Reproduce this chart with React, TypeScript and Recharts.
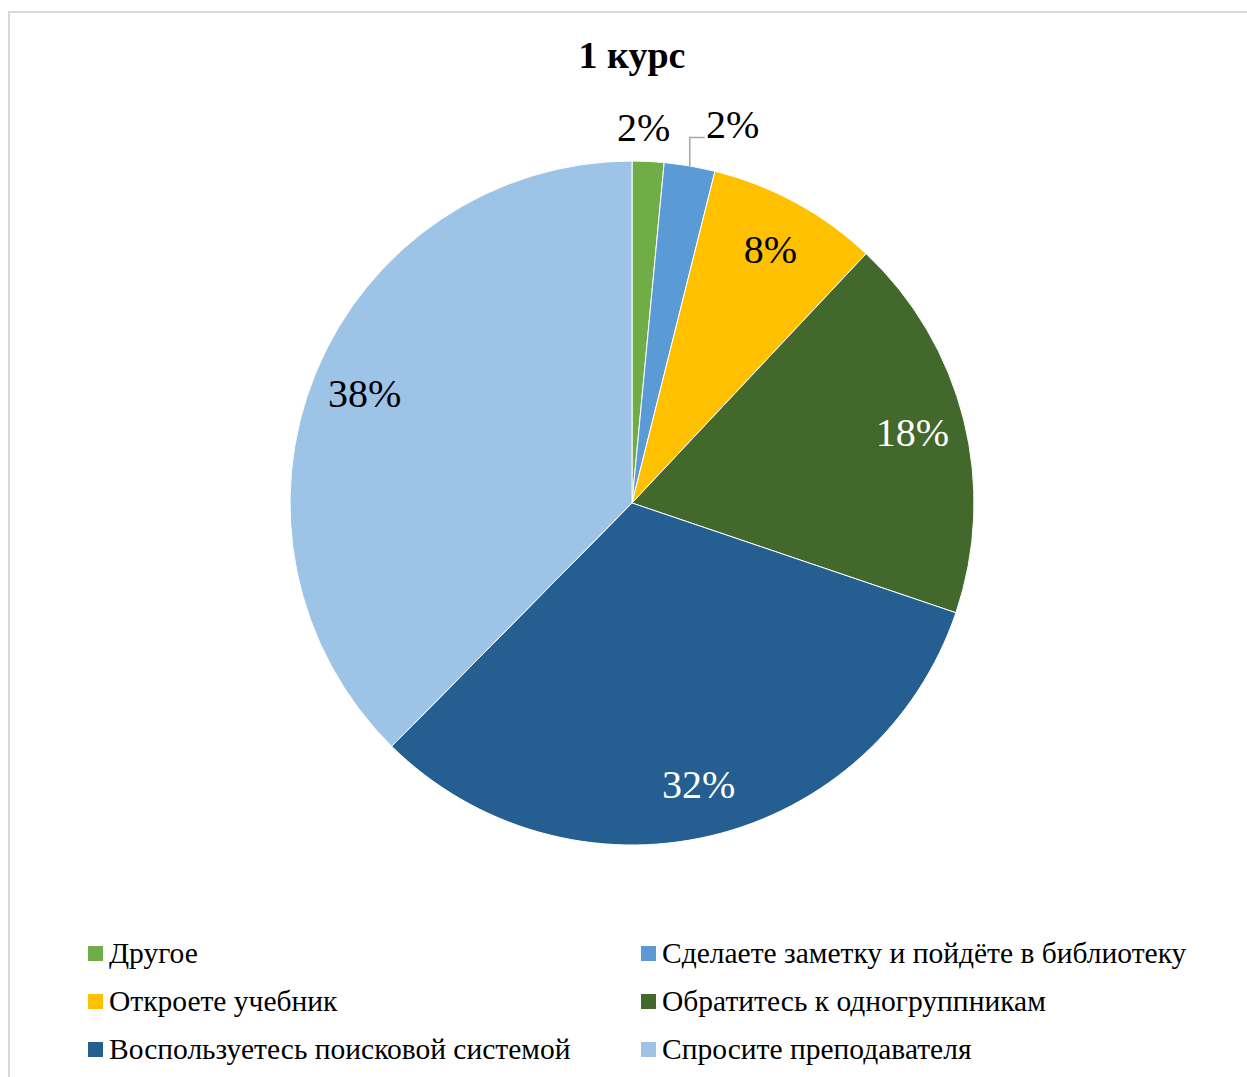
import { PieChart, Pie, Cell, Legend } from 'recharts'

const categories = [
  'Другое',
  'Сделаете заметку и пойдёте в библиотеку',
  'Откроете учебник',
  'Обратитесь к одногруппникам',
  'Воспользуетесь поисковой системой',
  'Спросите преподавателя'
]
const shares = [1.5, 2.4, 8.1, 18.2, 32.2, 37.6]
const colors = ['#70ad47', '#5b9bd5', '#ffc000', '#43682b', '#255e91', '#9dc3e6']
const labelColors = ['#000', '#000', '#000', '#fff', '#fff', '#000']

const data = categories.map((name, i) => ({ name, value: shares[i] }))

const RAD = Math.PI / 180
const FONT = '"Liberation Serif", "Times New Roman", serif'

const renderLabel = (props: any) => {
  const { cx, cy, midAngle, outerRadius, percent, index } = props
  const text = `${Math.round(percent * 100)}%`
  const sin = Math.sin(-midAngle * RAD)
  const cos = Math.cos(-midAngle * RAD)
  if (percent < 0.05) {
    const r = outerRadius + 34
    let x = cx + r * cos
    let y = cy + r * sin
    if (index === 1) {
      // pushed aside with a leader line
      const sx = cx + outerRadius * cos
      const sy = cy + outerRadius * sin
      x = sx + 43
      y -= 8
      return (
        <g>
          <polyline
            points={`${sx},${sy} ${sx},${y + 13} ${x - 28},${y + 13}`}
            fill="none"
            stroke="#a6a6a6"
            strokeWidth={1.5}
          />
          <text x={x} y={y} fill="#000" fontSize={40} fontFamily={FONT} textAnchor="middle" dominantBaseline="central">
            {text}
          </text>
        </g>
      )
    }
    return (
      <text x={x - 6} y={y} fill="#000" fontSize={40} fontFamily={FONT} textAnchor="middle" dominantBaseline="central">
        {text}
      </text>
    )
  }
  const r = outerRadius * 0.845
  return (
    <text
      x={cx + r * cos}
      y={cy + r * sin}
      fill={labelColors[index]}
      fontSize={40}
      fontFamily={FONT}
      textAnchor="middle"
      dominantBaseline="central"
    >
      {text}
    </text>
  )
}

const LegendContent = () => (
  <div
    style={{
      display: 'grid',
      gridTemplateColumns: '553px 580px',
      rowGap: 16,
      fontFamily: FONT,
      fontSize: 29.5,
      color: '#000',
      lineHeight: '32px'
    }}
  >
    {categories.map((name, i) => (
      <div key={name} style={{ display: 'flex', alignItems: 'center' }}>
        <span style={{ width: 15, height: 15, background: colors[i], marginRight: 6, flexShrink: 0 }} />
        <span style={{ whiteSpace: 'nowrap' }}>{name}</span>
      </div>
    ))}
  </div>
)

export default function App() {
  return (
    <div
      style={{
        position: 'fixed',
        left: 8,
        top: 11,
        width: 1260,
        height: 1080,
        borderLeft: '2px solid #d9d9d9',
        borderTop: '2px solid #d9d9d9',
        background: '#fff'
      }}
    >
      <div
        style={{
          position: 'absolute',
          left: 0,
          width: 1244,
          top: 20,
          textAlign: 'center',
          fontFamily: FONT,
          fontWeight: 'bold',
          fontSize: 38
        }}
      >
        1 курс
      </div>
      <PieChart width={1239} height={1066} style={{ position: 'absolute', left: 0, top: 0 }}>
        <Pie
          data={data}
          dataKey="value"
          nameKey="name"
          cx={617}
          cy={485}
          outerRadius={342}
          startAngle={90}
          endAngle={-270}
          stroke="#fff"
          strokeWidth={1}
          label={renderLabel}
          labelLine={false}
          isAnimationActive={false}
        >
          {data.map((d, i) => (
            <Cell key={d.name} fill={colors[i]} />
          ))}
        </Pie>
        <Legend
          content={LegendContent}
          wrapperStyle={{ position: 'absolute', left: 78, top: 924, width: 1140 }}
        />
      </PieChart>
    </div>
  )
}
